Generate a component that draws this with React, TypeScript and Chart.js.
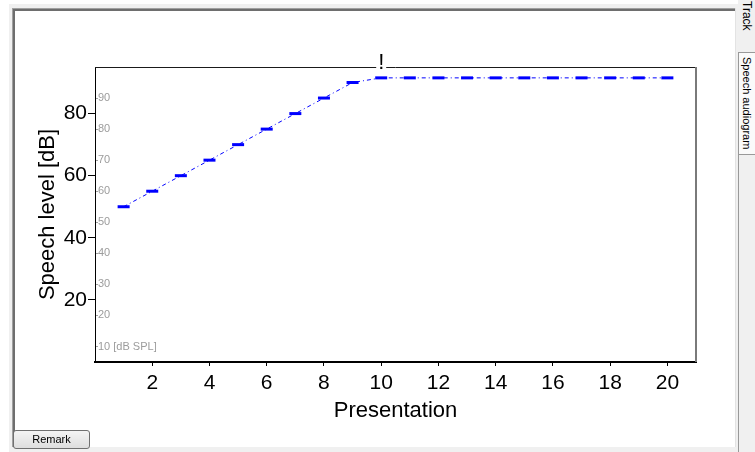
import React, { useEffect, useRef } from 'react';
import { Chart, registerables } from 'chart.js';

Chart.register(...registerables);

// ---- data ----
const presentations = [1, 2, 3, 4, 5, 6, 7, 8, 9, 10, 11, 12, 13, 14, 15, 16, 17, 18, 19, 20];
const speechLevels = [50, 55, 60, 65, 70, 75, 80, 85, 90, 91.5, 91.5, 91.5, 91.5, 91.5, 91.5, 91.5, 91.5, 91.5, 91.5, 91.5];
const xTickValues = [2, 4, 6, 8, 10, 12, 14, 16, 18, 20];
const yTickValues = [20, 40, 60, 80];
const splTickValues = [10, 20, 30, 40, 50, 60, 70, 80, 90];
const splOffset = 5;
const markerPresentations = [10];
const xRange = [0, 21];
const yRange = [0, 95];
const xTitle = 'Presentation';
const yTitle = 'Speech level [dB]';
const splUnitLabel = '[dB SPL]';

const FONT = "'Liberation Sans', Arial, sans-serif";

const framePlugin = {
  id: 'frameAndMarkers',
  afterDraw(chart: any) {
    const { ctx, chartArea: a, scales } = chart;
    ctx.save();
    ctx.strokeStyle = '#1a1a1a';
    ctx.lineWidth = 1;
    ctx.beginPath();
    ctx.moveTo(a.left, a.top + 0.5);
    ctx.lineTo(a.right, a.top + 0.5);
    ctx.stroke();
    ctx.strokeStyle = '#7a7a7a';
    ctx.lineWidth = 2;
    ctx.beginPath();
    ctx.moveTo(a.right, a.top);
    ctx.lineTo(a.right, a.bottom);
    ctx.stroke();
    markerPresentations.forEach((p) => {
      const x = scales.x.getPixelForValue(p);
      ctx.fillStyle = '#ffffff';
      ctx.fillRect(x - 5, a.top - 2, 10, 4);
      ctx.fillStyle = '#000000';
      ctx.font = `22px ${FONT}`;
      ctx.textAlign = 'center';
      ctx.textBaseline = 'alphabetic';
      ctx.fillText('!', x, a.top + 2);
    });
    ctx.restore();
  },
};

function SpeechChart() {
  const ref = useRef<HTMLCanvasElement | null>(null);
  useEffect(() => {
    if (!ref.current) return;
    const chart = new Chart(ref.current, {
      type: 'line',
      data: {
        datasets: [
          {
            data: presentations.map((p, i) => ({ x: p, y: speechLevels[i] })),
            borderColor: '#0000ff',
            borderWidth: 1,
            borderDash: [4, 3, 1, 3],
            tension: 0,
            fill: false,
            pointStyle: 'line',
            pointRadius: 6,
            pointBorderWidth: 3,
            pointBorderColor: '#0000ff',
            pointBackgroundColor: '#0000ff',
          },
        ],
      },
      options: {
        responsive: false,
        animation: false,
        devicePixelRatio: 1,
        layout: { padding: { left: 0, top: 67, right: 59, bottom: 0 } },
        plugins: { legend: { display: false }, tooltip: { enabled: false }, title: { display: false } },
        scales: {
          x: {
            type: 'linear',
            min: xRange[0],
            max: xRange[1],
            afterBuildTicks: (s: any) => {
              s.ticks = xTickValues.map((v) => ({ value: v }));
            },
            afterFit: (s: any) => {
              s.height = 90;
            },
            grid: { drawOnChartArea: false, drawTicks: true, tickLength: 4, tickColor: '#000', color: '#000' },
            border: { display: true, color: '#000', width: 2 },
            ticks: { color: '#000', font: { family: FONT, size: 21 }, padding: 5, maxRotation: 0, autoSkip: false },
            title: { display: true, text: xTitle, color: '#000', font: { family: FONT, size: 22 }, padding: { top: 0, bottom: 28 } },
          },
          y: {
            type: 'linear',
            position: 'left',
            weight: 1,
            min: yRange[0],
            max: yRange[1],
            afterBuildTicks: (s: any) => {
              s.ticks = yTickValues.map((v) => ({ value: v }));
            },
            afterFit: (s: any) => {
              s.width = 95;
            },
            grid: { drawOnChartArea: false, drawTicks: true, tickLength: 7, tickColor: '#000', color: '#000' },
            border: { display: true, color: '#000', width: 1 },
            ticks: { color: '#000', font: { family: FONT, size: 21 }, padding: 1, autoSkip: false },
            title: { display: true, text: yTitle, color: '#000', font: { family: FONT, size: 22 }, padding: { top: 35, bottom: 0 } },
          },
          y2: {
            type: 'linear',
            position: 'left',
            weight: 0,
            min: yRange[0] + splOffset,
            max: yRange[1] + splOffset,
            afterBuildTicks: (s: any) => {
              s.ticks = splTickValues.map((v) => ({ value: v }));
            },
            afterFit: (s: any) => {
              s.width = 0;
            },
            grid: { drawOnChartArea: false, drawTicks: true, tickLength: -3, tickColor: '#a0a0a0', color: '#a0a0a0' },
            border: { display: false },
            ticks: {
              mirror: true,
              color: '#9c9c9c',
              font: { family: FONT, size: 11 },
              padding: 3,
              autoSkip: false,
              callback: (v: any) => (v === splTickValues[0] ? `${v} ${splUnitLabel}` : `${v}`),
            },
          },
        },
      } as any,
      plugins: [framePlugin],
    });
    return () => chart.destroy();
  }, []);
  return (
    <canvas
      ref={ref}
      width={755}
      height={452}
      style={{ position: 'absolute', left: 0, top: 0, width: 755, height: 452, pointerEvents: 'none' }}
    />
  );
}

function VerticalLabel({ text, left, top, size }: { text: string; left: number; top: number; size: number }) {
  return (
    <span
      style={{
        position: 'absolute',
        left,
        top,
        fontSize: size,
        lineHeight: '14px',
        whiteSpace: 'nowrap',
        color: '#000',
        transform: 'rotate(90deg)',
        transformOrigin: '0 0',
      }}
    >
      {text}
    </span>
  );
}

export default function App() {
  const ui = "'Liberation Sans', Arial, sans-serif";
  return (
    <div style={{ position: 'absolute', left: 0, top: 0, width: 755, height: 452, background: '#ffffff', overflow: 'hidden', fontFamily: ui }}>
      <div style={{ position: 'absolute', left: 9, top: 4, width: 746, height: 448, background: '#f0f0f0' }} />
      <div
        style={{
          position: 'absolute',
          left: 12,
          top: 8,
          width: 723,
          height: 439,
          background: '#ffffff',
          boxSizing: 'border-box',
          borderLeft: '1px solid #a0a0a0',
          borderTop: '1px solid #a0a0a0',
          boxShadow: 'inset 1px 1px 0 #6e6e6e, inset 2px 2px 0 #6e6e6e',
        }}
      />
      <div style={{ position: 'absolute', left: 735, top: 8, width: 1, height: 439, background: '#e3e3e3' }} />
      <div style={{ position: 'absolute', left: 738, top: 52, width: 1, height: 400, background: '#999999' }} />
      <div style={{ position: 'absolute', left: 738, top: 0, width: 17, height: 50, overflow: 'hidden', background: '#f0f0f0' }}>
        <VerticalLabel text="Track" left={16} top={1} size={12} />
      </div>
      <div
        style={{
          position: 'absolute',
          left: 738,
          top: 52,
          width: 20,
          height: 103,
          boxSizing: 'border-box',
          border: '1px solid #999999',
          background: '#fafafa',
        }}
      >
        <VerticalLabel text="Speech audiogram" left={15} top={4} size={11} />
      </div>
      <SpeechChart />
      <div
        style={{
          position: 'absolute',
          left: 13,
          top: 430,
          width: 77,
          height: 19,
          boxSizing: 'border-box',
          border: '1px solid #707070',
          borderRadius: 3,
          background: 'linear-gradient(#f4f4f4, #dedede)',
          fontSize: 11,
          lineHeight: '17px',
          textAlign: 'center',
          color: '#000',
        }}
      >
        Remark
      </div>
    </div>
  );
}
